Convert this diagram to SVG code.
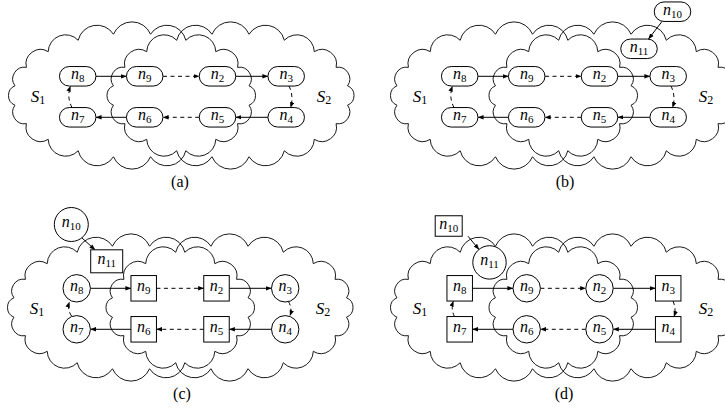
<svg xmlns="http://www.w3.org/2000/svg" xmlns:xlink="http://www.w3.org/1999/xlink" width="725" height="408" viewBox="0 0 725 408">
<style>
.cl{fill:none;stroke:#000;stroke-width:0.9}
.nd{fill:#fff;stroke:#000;stroke-width:1}
.e{fill:none;stroke:#000;stroke-width:1;marker-end:url(#ah)}
.d{stroke-dasharray:4 3.5}
.t{font-family:"Liberation Serif","Times New Roman",serif;font-size:16px;text-anchor:middle;fill:#000}
.i{font-style:italic}
.s{font-size:11px;font-style:normal}
.lb{font-size:17px}
.ls{font-size:12px;font-style:normal}
.cap{font-family:"Liberation Serif","Times New Roman",serif;font-size:16px;text-anchor:middle;fill:#000}
</style>
<defs>
<marker id="ah" viewBox="0 0 6 5" refX="5.6" refY="2.5" markerWidth="6" markerHeight="5" markerUnits="userSpaceOnUse" orient="auto"><path d="M0,0.3 L6,2.5 L0,4.7 z" fill="#000"/></marker>
<path id="cloud" class="cl" d="M-18.54,-61.24 A20.07,20.07 0 0 1 18.54,-61.24 A19.36,19.36 0 0 1 53.8,-55.24 A17.36,17.36 0 0 1 83.79,-43.84 A14.53,14.53 0 0 1 105.58,-28.15 A11.75,11.75 0 0 1 117.04,-9.7 A10.5,10.5 0 0 1 117.04,9.7 A11.75,11.75 0 0 1 105.58,28.15 A14.53,14.53 0 0 1 83.79,43.84 A17.36,17.36 0 0 1 53.8,55.24 A19.36,19.36 0 0 1 18.54,61.24 A20.07,20.07 0 0 1 -18.54,61.24 A19.36,19.36 0 0 1 -53.8,55.24 A17.36,17.36 0 0 1 -83.79,43.84 A14.53,14.53 0 0 1 -105.58,28.15 A11.75,11.75 0 0 1 -117.04,9.7 A10.5,10.5 0 0 1 -117.04,-9.7 A11.75,11.75 0 0 1 -105.58,-28.15 A14.53,14.53 0 0 1 -83.79,-43.84 A17.36,17.36 0 0 1 -53.8,-55.24 A19.36,19.36 0 0 1 -18.54,-61.24 Z"/>
</defs>

<!-- Panel (a) -->
<g id="panel-a">
<g id="a-clouds">
<use xlink:href="#cloud" href="#cloud" transform="translate(132 95.5)"/>
<use xlink:href="#cloud" href="#cloud" transform="translate(230.5 95.5)"/>
<text class="t i lb" x="38" y="101.5">S<tspan class="ls" dy="2">1</tspan></text>
<text class="t i lb" x="324" y="101.5">S<tspan class="ls" dy="2">2</tspan></text>
</g>
<g id="a-edges">
<path class="e" d="M95.95,76.3 H126.45"/>
<path class="e d" d="M163,76.3 H199.25"/>
<path class="e" d="M235.75,76.3 H267.95"/>
<path class="e d" d="M289,86 Q294,96.5 290.5,107.55"/>
<path class="e" d="M267.95,117.3 H235.75"/>
<path class="e d" d="M199.25,117.3 H163"/>
<path class="e" d="M126.45,117.3 H95.95"/>
<path class="e d" d="M72,107.55 Q66.5,97 70.5,86.05"/>
</g>
<g id="a-n8"><rect class="nd" x="59.45" y="66.55" width="36.5" height="19.5" rx="9.75"/><text class="t" x="77.7" y="79.1"><tspan class="i">n</tspan><tspan class="s" dy="3">8</tspan></text></g>
<g id="a-n9"><rect class="nd" x="126.45" y="66.55" width="36.5" height="19.5" rx="9.75"/><text class="t" x="144.7" y="79.1"><tspan class="i">n</tspan><tspan class="s" dy="3">9</tspan></text></g>
<g id="a-n2"><rect class="nd" x="199.25" y="66.55" width="36.5" height="19.5" rx="9.75"/><text class="t" x="217.5" y="79.1"><tspan class="i">n</tspan><tspan class="s" dy="3">2</tspan></text></g>
<g id="a-n3"><rect class="nd" x="267.95" y="66.55" width="36.5" height="19.5" rx="9.75"/><text class="t" x="286.2" y="79.1"><tspan class="i">n</tspan><tspan class="s" dy="3">3</tspan></text></g>
<g id="a-n7"><rect class="nd" x="59.45" y="107.55" width="36.5" height="19.5" rx="9.75"/><text class="t" x="77.7" y="120.1"><tspan class="i">n</tspan><tspan class="s" dy="3">7</tspan></text></g>
<g id="a-n6"><rect class="nd" x="126.45" y="107.55" width="36.5" height="19.5" rx="9.75"/><text class="t" x="144.7" y="120.1"><tspan class="i">n</tspan><tspan class="s" dy="3">6</tspan></text></g>
<g id="a-n5"><rect class="nd" x="199.25" y="107.55" width="36.5" height="19.5" rx="9.75"/><text class="t" x="217.5" y="120.1"><tspan class="i">n</tspan><tspan class="s" dy="3">5</tspan></text></g>
<g id="a-n4"><rect class="nd" x="267.95" y="107.55" width="36.5" height="19.5" rx="9.75"/><text class="t" x="286.2" y="120.1"><tspan class="i">n</tspan><tspan class="s" dy="3">4</tspan></text></g>
<text class="cap" x="180" y="187">(a)</text>
</g>

<!-- Panel (b) -->
<g id="panel-b" transform="translate(382 0)">
<g id="b-clouds">
<use xlink:href="#cloud" href="#cloud" transform="translate(132 95.5)"/>
<use xlink:href="#cloud" href="#cloud" transform="translate(230.5 95.5)"/>
<text class="t i lb" x="38" y="101.5">S<tspan class="ls" dy="2">1</tspan></text>
<text class="t i lb" x="324" y="101.5">S<tspan class="ls" dy="2">2</tspan></text>
</g>
<g id="b-edges">
<path class="e" d="M95.95,76.3 H126.45"/>
<path class="e d" d="M163,76.3 H199.25"/>
<path class="e" d="M235.75,76.3 H267.95"/>
<path class="e d" d="M289,86 Q294,96.5 290.5,107.55"/>
<path class="e" d="M267.95,117.3 H235.75"/>
<path class="e d" d="M199.25,117.3 H163"/>
<path class="e" d="M126.45,117.3 H95.95"/>
<path class="e d" d="M72,107.55 Q66.5,97 70.5,86.05"/>
<path class="e" d="M280,21.45 L266.5,39.05"/>
</g>
<g id="b-n8"><rect class="nd" x="59.45" y="66.55" width="36.5" height="19.5" rx="9.75"/><text class="t" x="77.7" y="79.1"><tspan class="i">n</tspan><tspan class="s" dy="3">8</tspan></text></g>
<g id="b-n9"><rect class="nd" x="126.45" y="66.55" width="36.5" height="19.5" rx="9.75"/><text class="t" x="144.7" y="79.1"><tspan class="i">n</tspan><tspan class="s" dy="3">9</tspan></text></g>
<g id="b-n2"><rect class="nd" x="199.25" y="66.55" width="36.5" height="19.5" rx="9.75"/><text class="t" x="217.5" y="79.1"><tspan class="i">n</tspan><tspan class="s" dy="3">2</tspan></text></g>
<g id="b-n3"><rect class="nd" x="267.95" y="66.55" width="36.5" height="19.5" rx="9.75"/><text class="t" x="286.2" y="79.1"><tspan class="i">n</tspan><tspan class="s" dy="3">3</tspan></text></g>
<g id="b-n7"><rect class="nd" x="59.45" y="107.55" width="36.5" height="19.5" rx="9.75"/><text class="t" x="77.7" y="120.1"><tspan class="i">n</tspan><tspan class="s" dy="3">7</tspan></text></g>
<g id="b-n6"><rect class="nd" x="126.45" y="107.55" width="36.5" height="19.5" rx="9.75"/><text class="t" x="144.7" y="120.1"><tspan class="i">n</tspan><tspan class="s" dy="3">6</tspan></text></g>
<g id="b-n5"><rect class="nd" x="199.25" y="107.55" width="36.5" height="19.5" rx="9.75"/><text class="t" x="217.5" y="120.1"><tspan class="i">n</tspan><tspan class="s" dy="3">5</tspan></text></g>
<g id="b-n4"><rect class="nd" x="267.95" y="107.55" width="36.5" height="19.5" rx="9.75"/><text class="t" x="286.2" y="120.1"><tspan class="i">n</tspan><tspan class="s" dy="3">4</tspan></text></g>
<g id="b-n10"><rect class="nd" x="272.25" y="1.95" width="36.5" height="19.5" rx="9.75"/><text class="t" x="290.5" y="14.5"><tspan class="i">n</tspan><tspan class="s" dy="3">10</tspan></text></g>
<g id="b-n11"><rect class="nd" x="238.75" y="39.05" width="36.5" height="19.5" rx="9.75"/><text class="t" x="257" y="51.6"><tspan class="i">n</tspan><tspan class="s" dy="3">11</tspan></text></g>
<text class="cap" x="183" y="187">(b)</text>
</g>

<!-- Panel (c) -->
<g id="panel-c" transform="translate(-1 212)">
<g id="c-clouds">
<use xlink:href="#cloud" href="#cloud" transform="translate(132 95.5)"/>
<use xlink:href="#cloud" href="#cloud" transform="translate(230.5 95.5)"/>
<text class="t i lb" x="38" y="101.5">S<tspan class="ls" dy="2">1</tspan></text>
<text class="t i lb" x="324" y="101.5">S<tspan class="ls" dy="2">2</tspan></text>
</g>
<g id="c-edges">
<path class="e" d="M91.4,76.3 H131.95"/>
<path class="e d" d="M157.45,76.3 H204.75"/>
<path class="e" d="M230.25,76.3 H272.5"/>
<path class="e d" d="M289.5,89.6 Q293.5,96.5 291,103.7"/>
<path class="e" d="M272.5,117.3 H230.25"/>
<path class="e d" d="M204.75,117.3 H157.45"/>
<path class="e" d="M131.95,117.3 H91.4"/>
<path class="e d" d="M72.5,104 Q68,97 70.5,90"/>
<path class="e" d="M82.5,25.5 L96,37.8"/>
</g>
<g id="c-n8"><circle class="nd" cx="77.7" cy="76.3" r="13.7"/><text class="t" x="77.7" y="79.1"><tspan class="i">n</tspan><tspan class="s" dy="3">8</tspan></text></g>
<g id="c-n9"><rect class="nd" x="131.95" y="63.55" width="25.5" height="25.5"/><text class="t" x="144.7" y="79.1"><tspan class="i">n</tspan><tspan class="s" dy="3">9</tspan></text></g>
<g id="c-n2"><rect class="nd" x="204.75" y="63.55" width="25.5" height="25.5"/><text class="t" x="217.5" y="79.1"><tspan class="i">n</tspan><tspan class="s" dy="3">2</tspan></text></g>
<g id="c-n3"><circle class="nd" cx="286.2" cy="76.3" r="13.7"/><text class="t" x="286.2" y="79.1"><tspan class="i">n</tspan><tspan class="s" dy="3">3</tspan></text></g>
<g id="c-n7"><circle class="nd" cx="77.7" cy="117.3" r="13.7"/><text class="t" x="77.7" y="120.1"><tspan class="i">n</tspan><tspan class="s" dy="3">7</tspan></text></g>
<g id="c-n6"><rect class="nd" x="131.95" y="104.55" width="25.5" height="25.5"/><text class="t" x="144.7" y="120.1"><tspan class="i">n</tspan><tspan class="s" dy="3">6</tspan></text></g>
<g id="c-n5"><rect class="nd" x="204.75" y="104.55" width="25.5" height="25.5"/><text class="t" x="217.5" y="120.1"><tspan class="i">n</tspan><tspan class="s" dy="3">5</tspan></text></g>
<g id="c-n4"><circle class="nd" cx="286.2" cy="117.3" r="13.7"/><text class="t" x="286.2" y="120.1"><tspan class="i">n</tspan><tspan class="s" dy="3">4</tspan></text></g>
<g id="c-n10"><circle class="nd" cx="72.3" cy="12.5" r="17"/><text class="t" x="72.3" y="15.3"><tspan class="i">n</tspan><tspan class="s" dy="3">10</tspan></text></g>
<g id="c-n11"><rect class="nd" x="91.7" y="37.8" width="32" height="23"/><text class="t" x="107.7" y="52.1"><tspan class="i">n</tspan><tspan class="s" dy="3">11</tspan></text></g>
<text class="cap" x="183" y="187">(c)</text>
</g>

<!-- Panel (d) -->
<g id="panel-d" transform="translate(382 212)">
<g id="d-clouds">
<use xlink:href="#cloud" href="#cloud" transform="translate(132 95.5)"/>
<use xlink:href="#cloud" href="#cloud" transform="translate(230.5 95.5)"/>
<text class="t i lb" x="38" y="101.5">S<tspan class="ls" dy="2">1</tspan></text>
<text class="t i lb" x="324" y="101.5">S<tspan class="ls" dy="2">2</tspan></text>
</g>
<g id="d-edges">
<path class="e" d="M90.45,76.3 H131"/>
<path class="e d" d="M158.4,76.3 H203.8"/>
<path class="e" d="M231.2,76.3 H273.45"/>
<path class="e d" d="M291,89.05 Q294.5,96.8 292,104.55"/>
<path class="e" d="M273.45,117.3 H231.2"/>
<path class="e d" d="M203.8,117.3 H158.4"/>
<path class="e" d="M131,117.3 H90.45"/>
<path class="e d" d="M72.5,104.55 Q68.5,96.8 71.5,89.05"/>
<path class="e" d="M86,24.25 L97,37.5"/>
</g>
<g id="d-n8"><rect class="nd" x="64.95" y="63.55" width="25.5" height="25.5"/><text class="t" x="77.7" y="79.1"><tspan class="i">n</tspan><tspan class="s" dy="3">8</tspan></text></g>
<g id="d-n9"><circle class="nd" cx="144.7" cy="76.3" r="13.7"/><text class="t" x="144.7" y="79.1"><tspan class="i">n</tspan><tspan class="s" dy="3">9</tspan></text></g>
<g id="d-n2"><circle class="nd" cx="217.5" cy="76.3" r="13.7"/><text class="t" x="217.5" y="79.1"><tspan class="i">n</tspan><tspan class="s" dy="3">2</tspan></text></g>
<g id="d-n3"><rect class="nd" x="273.45" y="63.55" width="25.5" height="25.5"/><text class="t" x="286.2" y="79.1"><tspan class="i">n</tspan><tspan class="s" dy="3">3</tspan></text></g>
<g id="d-n7"><rect class="nd" x="64.95" y="104.55" width="25.5" height="25.5"/><text class="t" x="77.7" y="120.1"><tspan class="i">n</tspan><tspan class="s" dy="3">7</tspan></text></g>
<g id="d-n6"><circle class="nd" cx="144.7" cy="117.3" r="13.7"/><text class="t" x="144.7" y="120.1"><tspan class="i">n</tspan><tspan class="s" dy="3">6</tspan></text></g>
<g id="d-n5"><circle class="nd" cx="217.5" cy="117.3" r="13.7"/><text class="t" x="217.5" y="120.1"><tspan class="i">n</tspan><tspan class="s" dy="3">5</tspan></text></g>
<g id="d-n4"><rect class="nd" x="273.45" y="104.55" width="25.5" height="25.5"/><text class="t" x="286.2" y="120.1"><tspan class="i">n</tspan><tspan class="s" dy="3">4</tspan></text></g>
<g id="d-n10"><rect class="nd" x="53.2" y="3.75" width="27" height="20.5"/><text class="t" x="66.7" y="16.8"><tspan class="i">n</tspan><tspan class="s" dy="3">10</tspan></text></g>
<g id="d-n11"><circle class="nd" cx="107.5" cy="50.4" r="16.7"/><text class="t" x="107.5" y="53.2"><tspan class="i">n</tspan><tspan class="s" dy="3">11</tspan></text></g>
<text class="cap" x="182" y="187">(d)</text>
</g>
</svg>
